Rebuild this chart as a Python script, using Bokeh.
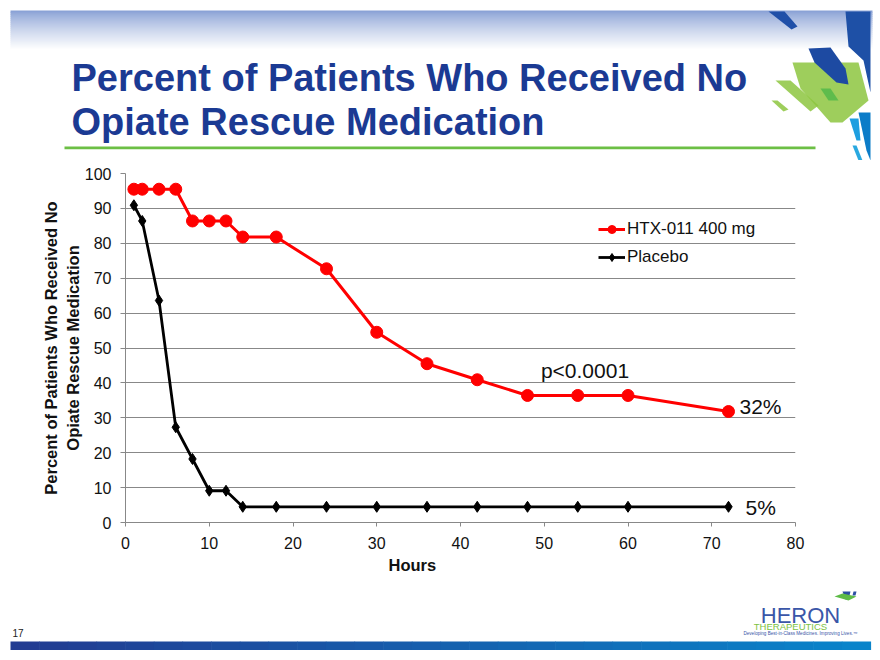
from bokeh.plotting import figure
from bokeh.layouts import column
from bokeh.models import (Range1d, Label, Legend, LegendItem, FixedTicker, Title)
from bokeh.embed import file_html
from bokeh.resources import INLINE

# ---------------- data ----------------
hours_htx = [1, 2, 4, 6, 8, 10, 12, 14, 18, 24, 30, 36, 42, 48, 54, 60, 72]
pct_htx = [95.5, 95.5, 95.5, 95.5, 86.4, 86.4, 86.4, 81.8, 81.8, 72.7, 54.5, 45.5, 40.9, 36.4, 36.4, 36.4, 31.8]
hours_pbo = [1, 2, 4, 6, 8, 10, 12, 14, 18, 24, 30, 36, 42, 48, 54, 60, 72]
pct_pbo = [90.9, 86.4, 63.6, 27.3, 18.2, 9.1, 9.1, 4.5, 4.5, 4.5, 4.5, 4.5, 4.5, 4.5, 4.5, 4.5, 4.5]
series_names = ["HTX-011 400 mg", "Placebo"]
end_labels = ["32%", "5%"]
x_ticks = [0, 10, 20, 30, 40, 50, 60, 70, 80]
y_ticks = [0, 10, 20, 30, 40, 50, 60, 70, 80, 90, 100]
title_lines = ["Percent of Patients Who Received No", "Opiate Rescue Medication"]
y_label = "Percent of Patients Who Received No\nOpiate Rescue Medication"
x_label = "Hours"
p_text = "p<0.0001"
page_number = "17"

ARIAL = "Liberation Sans"
W = 880
TOP_H, CHART_H, BOT_H = 160, 430, 70


def no_align(f):
    try:
        f.frame_align = False
    except Exception:
        pass


def blank(h, y0):
    f = figure(width=W, height=h, output_backend="svg", toolbar_location=None,
               x_range=Range1d(0, W), y_range=Range1d(y0 + h, y0),
               x_axis_type=None, y_axis_type=None, min_border=0)
    f.grid.visible = False
    f.outline_line_color = None
    f.background_fill_color = "white"
    f.border_fill_color = "white"
    no_align(f)
    return f


# ---------------- top: slide header ----------------
top = blank(TOP_H, 0)
n = 20
for i in range(n):
    t = i / (n - 1)
    r = int(138 + (255 - 138) * t ** 0.8); g = int(162 + (255 - 162) * t ** 0.8); b = int(214 + (255 - 214) * t ** 0.8)
    top.quad(left=10, right=872, top=10 + i * 40 / n, bottom=10 + (i + 1) * 40 / n + 0.5,
             fill_color=f"#{r:02x}{g:02x}{b:02x}", line_color=None)
shapes = [
    ([768, 784, 797, 791], [11, 11, 26, 29], "#1F4FA8", 1.0),
    ([845, 870, 870, 863, 848], [11, 11, 92, 60, 46], "#1E50A6", 1.0),
    ([792, 858, 868, 842, 830, 800], [62, 62, 100, 122, 122, 88], "#8DC63F", 0.85),
    ([775, 790, 818, 810], [80, 80, 105, 111], "#8DC63F", 0.85),
    ([771, 777, 788, 783], [100, 100, 109, 111], "#8DC63F", 0.85),
    ([808, 830, 845, 848, 836, 814], [48, 47, 68, 84, 82, 62], "#1D4AA2", 1.0),
    ([820, 830, 838, 828], [88, 88, 100, 100], "#4DB848", 0.8),
    ([849, 858, 860, 856], [118, 118, 140, 140], "#1E9FE0", 1.0),
    ([858, 870, 870, 866], [112, 112, 160, 150], "#0B7CC8", 1.0),
    ([852, 856, 862, 858], [145, 145, 160, 160], "#29A8E0", 1.0),
]
top.patches([s[0] for s in shapes], [s[1] for s in shapes], fill_color=[s[2] for s in shapes],
             fill_alpha=[s[3] for s in shapes], line_color=None)
top.quad(left=64, right=815, top=146, bottom=148.7, fill_color="#6CBF45", line_color=None)
for i, line in enumerate(title_lines):
    top.add_layout(Label(x=71, y=77.5 + i * 43.5, text=line, text_font=ARIAL, text_font_size="38px",
                         text_font_style="bold", text_color="#1B3A93", text_baseline="alphabetic"))

# ---------------- chart ----------------
p = figure(width=W, height=CHART_H, output_backend="svg", toolbar_location=None,
           x_range=Range1d(0, 80), y_range=Range1d(0, 100),
           min_border_left=125, min_border_right=85, min_border_top=13, min_border_bottom=68)
no_align(p)
p.outline_line_color = None
p.background_fill_color = "white"
p.border_fill_color = "white"

for ax in (p.xaxis[0], p.yaxis[0]):
    ax.axis_line_color = "#888888"
    ax.major_tick_line_color = "#888888"
    ax.minor_tick_line_color = None
    ax.major_tick_out = 4
    ax.major_tick_in = 0
    ax.major_label_text_font = ARIAL
    ax.major_label_text_font_size = "16px"
    ax.major_label_text_color = "#111111"
    ax.axis_label_text_font = ARIAL
    ax.axis_label_text_font_size = "16.5px"
    ax.axis_label_text_font_style = "bold"
    ax.axis_label_text_color = "#111111"
p.xaxis.ticker = FixedTicker(ticks=x_ticks)
p.yaxis.ticker = FixedTicker(ticks=y_ticks)
p.yaxis.major_tick_out = 5
p.yaxis.major_label_standoff = 9
p.xaxis.major_label_standoff = 10
p.yaxis.axis_label = y_label
p.yaxis.axis_label_standoff = 0

# x-axis title (the reference places it left of centre)
p.add_layout(Title(text=x_label, align="left", offset=263, standoff=4, text_font=ARIAL,
                   text_font_size="16.5px", text_font_style="bold", text_color="#111111"), "below")

p.xgrid.grid_line_color = None
p.ygrid.ticker = FixedTicker(ticks=y_ticks)
p.ygrid.grid_line_color = "#888888"
p.ygrid.grid_line_width = 1

r1 = p.line(hours_htx, pct_htx, line_color="#FF0000", line_width=3)
r2 = p.scatter(hours_htx, pct_htx, marker="circle", size=12, fill_color="#FF0000", line_color="#FF0000")
r3 = p.line(hours_pbo, pct_pbo, line_color="#000000", line_width=2.8)
r4 = p.scatter(hours_pbo, pct_pbo, marker="diamond", size=11, fill_color="#000000", line_color="#000000")

legend = Legend(items=[LegendItem(label=series_names[0], renderers=[r1, r2]),
                       LegendItem(label=series_names[1], renderers=[r3, r4])],
                location=(473, 255), border_line_color=None, background_fill_alpha=0,
                padding=0, margin=0, spacing=8, glyph_width=27, glyph_height=20,
                label_height=20, label_standoff=2, label_text_font=ARIAL,
                label_text_font_size="17px", label_text_color="#111111")
p.add_layout(legend, "center")

p.add_layout(Label(x=49.6, y=43.6, text=p_text, text_font=ARIAL, text_font_size="21px",
                   text_baseline="middle", text_color="#111111"))
p.add_layout(Label(x=hours_htx[-1], y=pct_htx[-1], x_offset=11, y_offset=5, text=end_labels[0],
                   text_font=ARIAL, text_font_size="21px", text_baseline="middle", text_color="#111111"))
p.add_layout(Label(x=hours_pbo[-1], y=pct_pbo[-1], x_offset=17, y_offset=-1, text=end_labels[1],
                   text_font=ARIAL, text_font_size="21px", text_baseline="middle", text_color="#111111"))

# ---------------- bottom: footer ----------------
y0 = TOP_H + CHART_H
bot = blank(BOT_H, y0)
m = 30
for i in range(m):
    t = i / (m - 1)
    r = int(0x22 + (0x0a - 0x22) * t); g = int(0x3c + (0x84 - 0x3c) * t); b = int(0x92 + (0xca - 0x92) * t)
    bot.quad(left=10 + i * 860 / m, right=10 + (i + 1) * 860 / m + 0.6, top=641, bottom=649.5,
             fill_color=f"#{r:02x}{g:02x}{b:02x}", line_color=None)
bot.add_layout(Label(x=12, y=632, text=page_number, text_font=ARIAL, text_font_size="10px",
                     text_color="#222222", text_baseline="alphabetic"))
bot.add_layout(Label(x=800, y=615, text="HERON", text_font=ARIAL, text_font_size="22px",
                     text_color="#3A56A8", text_align="center", text_baseline="alphabetic"))
bot.add_layout(Label(x=790, y=626, text="THERAPEUTICS", text_font=ARIAL, text_font_size="9.5px",
                     text_color="#7DC242", text_align="center", text_baseline="alphabetic"))
bot.add_layout(Label(x=800, y=633, text="Developing Best-in-Class Medicines. Improving Lives.\u2122",
                     text_font=ARIAL, text_font_size="4.6px", text_color="#3A56A8", text_align="center",
                     text_baseline="alphabetic"))
bot.patches([[842, 850, 848, 845], [834, 842, 856, 848], [853, 856, 855, 852]],
            [[591, 591, 599, 599], [596, 593, 596, 600], [591, 591, 595, 595]],
            fill_color=["#2C4FA3", "#5DBB46", "#2C4FA3"], line_color=None)

layout = column(top, p, bot, spacing=0)
open("out.html", "w").write(file_html(layout, INLINE))
